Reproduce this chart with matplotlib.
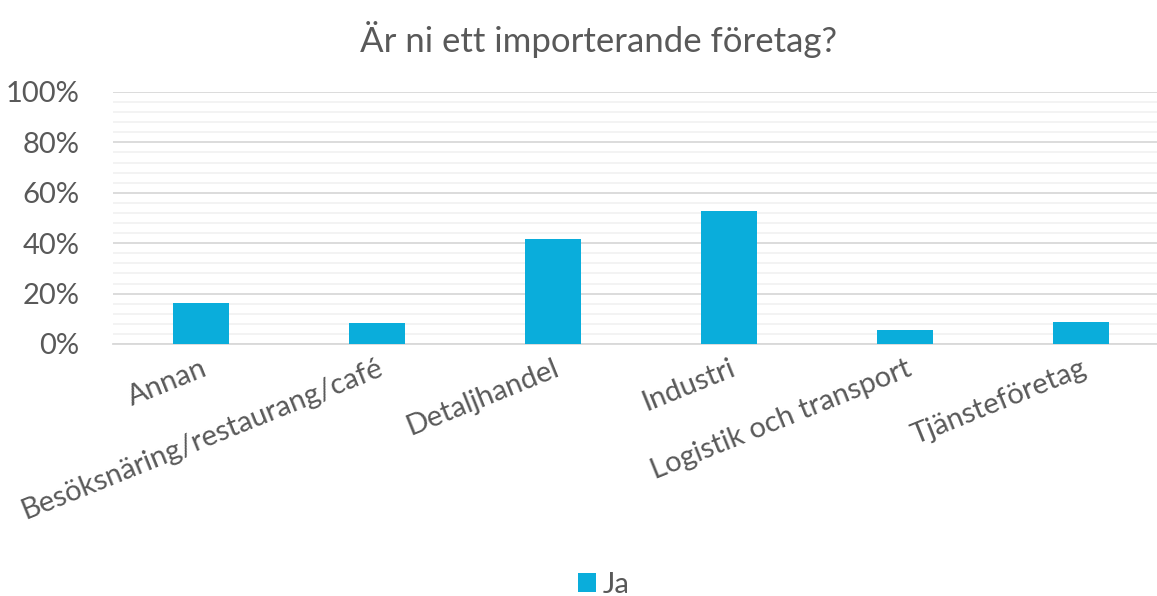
import matplotlib.pyplot as plt
import numpy as np
from matplotlib.ticker import MultipleLocator, PercentFormatter

# --- data ---
categories = ['Annan', 'Besöksnäring/restaurang/café', 'Detaljhandel',
              'Industri', 'Logistik och transport', 'Tjänsteföretag']
ja_values = [0.161, 0.082, 0.415, 0.527, 0.054, 0.086]

title = 'Är ni ett importerande företag?'
series_name = 'Ja'

bar_color = '#0aaddb'
text_color = '#595959'

plt.rcParams['font.family'] = ['Lato', 'DejaVu Sans']

fig = plt.figure(figsize=(11.57, 5.96), dpi=100)
ax = fig.add_axes([113 / 1157, 1 - 344 / 596, 1044 / 1157, 252 / 596])

x = np.arange(len(categories))
ax.bar(x, ja_values, width=0.32, color=bar_color, label=series_name, zorder=3)

ax.set_ylim(0, 1.0)
ax.set_xlim(-0.5, -0.5 + 1044 / 176)
ax.yaxis.set_major_locator(MultipleLocator(0.2))
ax.yaxis.set_minor_locator(MultipleLocator(0.04))
ax.yaxis.set_major_formatter(PercentFormatter(1.0, decimals=0))
ax.grid(axis='y', which='major', color='#d9d9d9', linewidth=1.3, zorder=1)
ax.grid(axis='y', which='minor', color='#f2f2f2', linewidth=1.3, zorder=0)

for side in ['top', 'right', 'left']:
    ax.spines[side].set_visible(False)
ax.spines['bottom'].set_color('#d9d9d9')
ax.spines['bottom'].set_linewidth(1.3)

ax.tick_params(axis='y', which='both', length=0, labelsize=21, labelcolor=text_color, pad=24)
ax.tick_params(axis='x', length=0, labelsize=21, labelcolor=text_color, pad=8)
ax.set_xticks(x)
ax.set_xticklabels(categories, rotation=22, ha='right', rotation_mode='anchor')

fig.suptitle(title, fontsize=25, color=text_color, x=0.517, y=0.965)

fig.legend(loc='center', bbox_to_anchor=(0.522, 1 - 585 / 596), frameon=False,
           fontsize=21, labelcolor=text_color, handlelength=0.6, handleheight=0.6,
           handletextpad=0.25)

fig.savefig('out.png', dpi=100)
